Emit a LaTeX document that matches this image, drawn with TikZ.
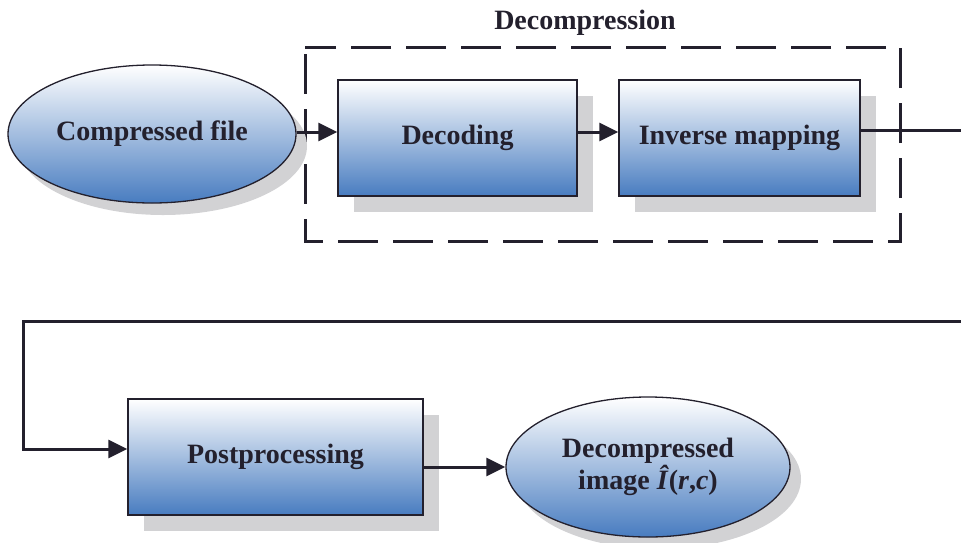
\documentclass[tikz,border=0pt]{standalone}
\usepackage{fontspec}
\setmainfont{Liberation Serif}
\usetikzlibrary{arrows.meta,shadows,shapes.geometric}

\definecolor{fillblue}{RGB}{72,124,192}
\definecolor{midblue}{RGB}{175,192,225}
\definecolor{shadowgray}{RGB}{210,210,212}
\definecolor{inkdark}{RGB}{35,32,45}

\tikzset{
  shade3/.style={top color=white, middle color=midblue, bottom color=fillblue},
  labelfont/.style={font=\fontsize{28}{32}\selectfont\bfseries, text=inkdark},
  flat shadow/.style={general shadow={fill=shadowgray, shadow xshift=16pt, shadow yshift=-16pt}},
  procbox/.style={draw=inkdark, line width=1.3pt, rectangle, shade3, flat shadow,
    minimum width=239pt, minimum height=116pt, inner sep=0pt, labelfont},
  termnode/.style={draw=inkdark, line width=1.3pt, ellipse, shade3,
    general shadow={fill=shadowgray, shadow xshift=11pt, shadow yshift=-12pt},
    inner sep=0pt, labelfont, align=center},
  link/.style={draw=inkdark, line width=3pt},
  arrowlink/.style={link, -{Triangle[length=19pt,width=18pt]}},
}

\begin{document}
\begin{tikzpicture}[x=1pt,y=-1pt]
\useasboundingbox (0,0) rectangle (961,542);

% grouping frame of the decompression stage
\draw[inkdark, line width=3pt, dash pattern=on 40pt off 15pt, dash phase=48pt]
  (305,47) rectangle (900,241);
\node[labelfont] (title) at (585,23) {Decompression};

% blocks
\node[termnode, minimum width=288pt, minimum height=138pt] (cf) at (152,134) {Compressed file};
\node[procbox] (dec) at (457.5,138) {Decoding};
\node[procbox, minimum width=241pt] (inv) at (739.5,138) {Inverse mapping};
\node[procbox, minimum width=295pt, minimum height=116pt] (post) at (275.5,457) {Postprocessing};
\node[termnode, minimum width=284pt, minimum height=140pt] (out) at (648,467)
  {Decompressed\\image \textit{Î}(\textit{r},\textit{c})};

% free ends of the wrap-around line
\coordinate (outR) at (961,130);
\coordinate (inR) at (961,321);
\coordinate (corner) at (23,321);

% connectors
\draw[arrowlink] (cf.east |- 0,132) -- (dec.west |- 0,132);
\draw[arrowlink] (dec.east |- 0,132) -- (inv.west |- 0,132);
\draw[link] (inv.east |- outR) -- (outR);
\draw[arrowlink] (inR) -- (corner) |- (post.west |- 0,449);
\draw[arrowlink] (post.east |- 0,467) -- (out.west |- 0,467);
\end{tikzpicture}
\end{document}
